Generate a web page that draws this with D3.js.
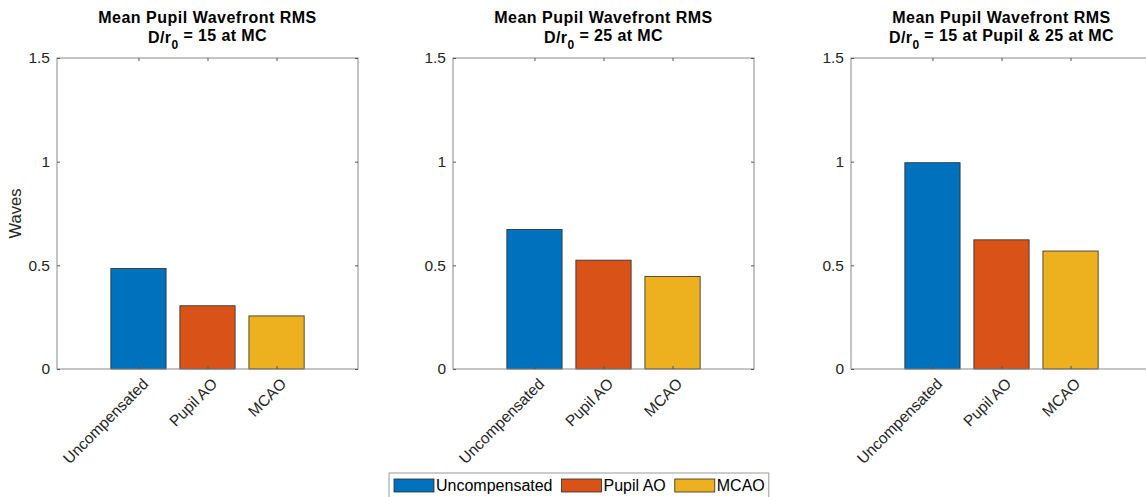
<!DOCTYPE html>
<html>
<head>
<meta charset="utf-8">
<script src="https://cdn.jsdelivr.net/npm/d3@7"></script>
<style>
  body { margin: 0; background: #fff; }
  text { font-family: "Liberation Sans", Arial, Helvetica, sans-serif; fill: #262626; }
</style>
</head>
<body>
<div id="chart"></div>
<script>
var categories = ["Uncompensated", "Pupil AO", "MCAO"];
var colours = ["#0072BD", "#D95319", "#EDB120"];
var titleLine1 = "Mean Pupil Wavefront RMS";
var titleLine2 = [" = 15 at MC", " = 25 at MC", " = 15 at Pupil & 25 at MC"];
var rmsMC15 = [0.485, 0.305, 0.256];
var rmsMC25 = [0.673, 0.525, 0.446];
var rmsMixed = [0.995, 0.623, 0.569];
var yTicks = [0, 0.5, 1, 1.5];

var panels = [rmsMC15, rmsMC25, rmsMixed];

var W = 1146, H = 497;
var panelLeft = [57, 453, 851],
    marginTop = 58,
    width = 301,
    height = 311;

var svg = d3.select("#chart")
  .append("svg")
  .attr("width", W)
  .attr("height", H);

var xScale = d3.scalePoint().domain(categories).range([0, width]).padding(1.18);
var barW = xScale.step() * 0.8;
var yScale = d3.scaleLinear().domain([0, 1.5]).range([height, 0]);
var colourScale = d3.scaleOrdinal().domain(categories).range(colours);

panels.forEach(function(values, p) {
  var g = svg.append("g")
    .attr("transform", "translate(" + panelLeft[p] + "," + marginTop + ")");

  var data = categories.map(function(c, i) { return { cat: c, value: values[i] }; });

  // bars
  g.selectAll("rect.bar")
    .data(data)
    .enter().append("rect")
    .attr("class", "bar")
    .attr("x", function(d) { return xScale(d.cat) - barW / 2; })
    .attr("width", barW)
    .attr("y", function(d) { return yScale(d.value); })
    .attr("height", function(d) { return height - yScale(d.value); })
    .attr("fill", function(d) { return colourScale(d.cat); })
    .attr("stroke", "#2b2b2b")
    .attr("stroke-width", 0.8);

  // box
  g.append("rect")
    .attr("width", width).attr("height", height)
    .attr("fill", "none")
    .attr("stroke", "#8a8a8a")
    .attr("stroke-width", 1);

  // y axis (ticks inside)
  var yAxis = g.append("g").call(d3.axisLeft(yScale).tickValues(yTicks).tickSize(-3).tickPadding(7)
      .tickFormat(function(d) { return d === 0 || d === 1 ? d3.format("d")(d) : d; }));
  yAxis.select(".domain").remove();
  yAxis.selectAll("line").attr("stroke", "#555");
  yAxis.selectAll("text").style("font-size", "15.5px").attr("fill", "#262626")
    .style("font-family", "'Liberation Sans', Arial, sans-serif");

  var yAxisR = g.append("g").attr("transform", "translate(" + width + ",0)")
    .call(d3.axisRight(yScale).tickValues(yTicks).tickSize(-3).tickFormat(""));
  yAxisR.select(".domain").remove();
  yAxisR.selectAll("line").attr("stroke", "#555");

  // x axis
  var xAxis = g.append("g").attr("transform", "translate(0," + height + ")")
    .call(d3.axisBottom(xScale).tickSize(-3).tickFormat(""));
  xAxis.select(".domain").remove();
  xAxis.selectAll("line").attr("stroke", "#555");

  var xAxisT = g.append("g").call(d3.axisTop(xScale).tickSize(-3).tickFormat(""));
  xAxisT.select(".domain").remove();
  xAxisT.selectAll("line").attr("stroke", "#555");

  // rotated category labels
  g.selectAll("text.xlab")
    .data(categories)
    .enter().append("text")
    .attr("class", "xlab")
    .attr("text-anchor", "end")
    .attr("transform", function(d) {
      return "translate(" + (xScale(d) + 7) + "," + (height + 12) + ") rotate(-45)";
    })
    .attr("dy", "0.35em")
    .style("font-size", "15.5px")
    .text(function(d) { return d; });

  // title
  var tx = width / 2;
  g.append("text")
    .attr("x", tx).attr("y", -35)
    .attr("text-anchor", "middle")
    .style("font-size", "16px").style("font-weight", "bold")
    .style("letter-spacing", "0.5px")
    .style("fill", "#000")
    .text(titleLine1);
  var t2 = g.append("text")
    .attr("x", tx).attr("y", -15)
    .attr("text-anchor", "middle")
    .style("font-size", "16px").style("font-weight", "bold")
    .style("letter-spacing", "0.4px")
    .style("fill", "#000");
  t2.append("tspan").text("D/r");
  t2.append("tspan").attr("dy", "0.5em").style("font-size", "12px").text("0");
  t2.append("tspan").attr("dy", "-0.5em").text(titleLine2[p]);

  if (p === 0) {
    g.append("text")
      .attr("transform", "translate(-36," + (height / 2) + ") rotate(-90)")
      .attr("text-anchor", "middle")
      .style("font-size", "16.5px")
      .text("Waves");
  }
});

// legend
var legend = svg.append("g").attr("transform", "translate(389,473)");
var lx = 5;
categories.forEach(function(c) {
  var it = legend.append("g").attr("transform", "translate(" + lx + ",0)");
  it.append("rect")
    .attr("x", 0).attr("y", 6).attr("width", 40).attr("height", 13)
    .attr("fill", colourScale(c))
    .attr("stroke", "#2b2b2b").attr("stroke-width", 0.8);
  var t = it.append("text")
    .attr("x", 42).attr("y", 18)
    .style("font-size", "16px")
    .style("fill", "#000")
    .text(c);
  lx += 42 + t.node().getComputedTextLength() + 9;
});
legend.insert("rect", ":first-child")
  .attr("x", 0).attr("y", 0)
  .attr("width", lx - 5).attr("height", 30)
  .attr("fill", "#fff")
  .attr("stroke", "#9a9a9a").attr("stroke-width", 1);
</script>
</body>
</html>
